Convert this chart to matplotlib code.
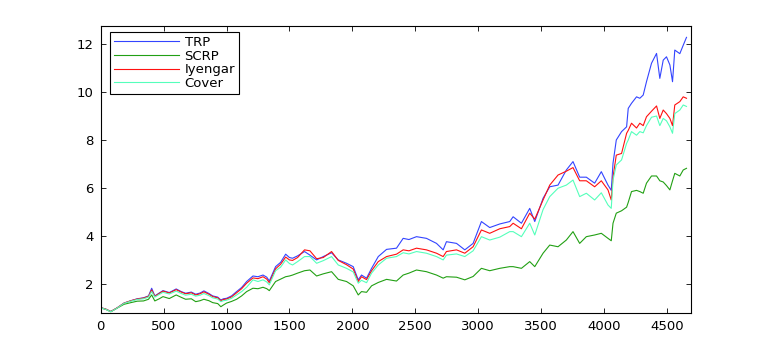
import matplotlib
matplotlib.use("Agg")
import matplotlib.pyplot as plt

days = [0, 40, 80, 130, 185, 240, 290, 340, 380, 405, 430, 465, 495, 545, 600, 640,
        675, 720, 755, 790, 820, 860, 890, 930, 955, 975, 1000, 1040, 1080, 1120, 1160,
        1210, 1250, 1290, 1320, 1340, 1390, 1430, 1470, 1500, 1525, 1565, 1620, 1663,
        1716, 1769, 1835, 1888, 1954, 2007, 2047, 2073, 2113, 2153, 2206, 2272, 2351,
        2404, 2450, 2510, 2589, 2669, 2722, 2748, 2828, 2894, 2960, 3026, 3092, 3172,
        3251, 3278, 3344, 3410, 3450, 3516, 3569, 3635, 3701, 3754, 3807, 3860, 3926,
        3979, 4032, 4058, 4072, 4098, 4140, 4180, 4193, 4219, 4259, 4285, 4312, 4338,
        4378, 4418, 4444, 4471, 4497, 4524, 4545, 4563, 4603, 4630, 4656]

trp = [1.01, 0.95, 0.85, 1.0, 1.2, 1.3, 1.38, 1.42, 1.5, 1.82, 1.5, 1.62, 1.72, 1.64, 1.79, 1.68,
       1.61, 1.66, 1.57, 1.62, 1.71, 1.6, 1.5, 1.45, 1.33, 1.38, 1.4, 1.5, 1.68, 1.85, 2.1,
       2.33, 2.3, 2.37, 2.28, 2.12, 2.72, 2.9, 3.24, 3.1, 3.07, 3.17, 3.35, 3.2,
       3.0, 3.14, 3.3, 3.0, 2.86, 2.72, 2.17, 2.37, 2.24, 2.65, 3.14, 3.44, 3.49,
       3.9, 3.85, 3.97, 3.9, 3.69, 3.42, 3.76, 3.69, 3.42, 3.69, 4.6, 4.35, 4.5,
       4.6, 4.8, 4.53, 5.15, 4.6, 5.57, 6.05, 6.12, 6.75, 7.1, 6.45, 6.45, 6.2,
       6.68, 6.12, 5.9, 7.03, 8.0, 8.35, 8.55, 9.32, 9.53, 9.8, 9.74, 9.875, 10.43,
       11.2, 11.61, 10.57, 11.33, 11.47, 11.13, 10.43, 11.75, 11.6, 11.95, 12.28]

scrp = [1.0, 0.94, 0.84, 0.99, 1.15, 1.22, 1.28, 1.29, 1.36, 1.54, 1.29, 1.38, 1.47, 1.39, 1.54, 1.44,
        1.36, 1.38, 1.26, 1.3, 1.36, 1.3, 1.22, 1.18, 1.05, 1.12, 1.2, 1.27, 1.36, 1.5, 1.68,
        1.82, 1.8, 1.86, 1.8, 1.72, 2.1, 2.2, 2.3, 2.33, 2.37, 2.45, 2.55, 2.58,
        2.33, 2.42, 2.51, 2.19, 2.1, 1.92, 1.54, 1.68, 1.65, 1.92, 2.06, 2.19, 2.12,
        2.37, 2.45, 2.58, 2.51, 2.37, 2.24, 2.3, 2.28, 2.17, 2.31, 2.65, 2.55, 2.65,
        2.72, 2.72, 2.65, 2.93, 2.72, 3.28, 3.62, 3.55, 3.83, 4.18, 3.69, 3.97, 4.04,
        4.11, 3.9, 3.8, 4.53, 4.95, 5.05, 5.2, 5.4, 5.85, 5.9, 5.85, 5.78, 6.2,
        6.5, 6.5, 6.3, 6.25, 6.1, 5.92, 6.3, 6.61, 6.5, 6.75, 6.82]

iyengar = [1.01, 0.95, 0.85, 1.0, 1.2, 1.3, 1.37, 1.41, 1.48, 1.75, 1.48, 1.6, 1.7, 1.62, 1.76, 1.66,
           1.59, 1.63, 1.54, 1.59, 1.67, 1.57, 1.47, 1.42, 1.3, 1.35, 1.37, 1.46, 1.63, 1.8, 2.03,
           2.25, 2.22, 2.3, 2.2, 2.05, 2.63, 2.82, 3.12, 3.0, 2.98, 3.1, 3.42, 3.38,
           3.05, 3.1, 3.35, 2.98, 2.8, 2.62, 2.1, 2.3, 2.18, 2.55, 2.93, 3.14, 3.24,
           3.42, 3.38, 3.49, 3.42, 3.28, 3.14, 3.35, 3.42, 3.28, 3.55, 4.25, 4.11, 4.3,
           4.39, 4.53, 4.3, 4.95, 4.7, 5.5, 6.12, 6.54, 6.7, 6.85, 6.3, 6.3, 6.05,
           6.3, 5.92, 5.5, 6.45, 7.37, 7.44, 8.28, 8.4, 8.7, 8.5, 8.7, 8.6, 8.97,
           9.2, 9.42, 8.9, 9.25, 9.1, 8.9, 8.6, 9.46, 9.6, 9.8, 9.74]

cover = [1.0, 0.94, 0.84, 0.99, 1.19, 1.28, 1.35, 1.38, 1.45, 1.68, 1.45, 1.56, 1.65, 1.58, 1.7, 1.6,
         1.53, 1.57, 1.49, 1.53, 1.6, 1.51, 1.42, 1.37, 1.26, 1.3, 1.32, 1.4, 1.54, 1.68, 1.86,
         2.17, 2.1, 2.17, 2.08, 1.96, 2.55, 2.7, 3.0, 2.85, 2.79, 2.93, 3.14, 3.14,
         2.86, 2.97, 3.14, 2.79, 2.65, 2.5, 2.03, 2.15, 2.05, 2.45, 2.79, 3.07, 3.14,
         3.3, 3.25, 3.35, 3.28, 3.14, 3.0, 3.2, 3.25, 3.14, 3.38, 3.97, 3.83, 3.95,
         4.18, 4.18, 3.97, 4.53, 4.04, 5.1, 5.64, 5.99, 6.12, 6.33, 5.64, 5.78, 5.5,
         5.8, 5.29, 5.15, 6.33, 6.96, 7.17, 7.86, 8.0, 8.35, 8.2, 8.35, 8.3, 8.6,
         8.95, 9.0, 8.6, 8.9, 8.8, 8.55, 8.28, 9.1, 9.25, 9.46, 9.4]

labels = ["TRP", "SCRP", "Iyengar", "Cover"]
colors = ["#3344ff", "#22a014", "#ff1010", "#55ffbb"]

fig = plt.figure(figsize=(7.63, 3.54), dpi=100)
ax = fig.add_axes([0.132, 0.116, 0.773, 0.811])

for ys, lab, col in zip([trp, scrp, iyengar, cover], labels, colors):
    ax.plot(days, ys, color=col, lw=0.8, label=lab)

ax.set_xlim(0, 4688)
ax.set_ylim(0.79, 12.76)
ax.set_xticks(range(0, 5000, 500))
ax.set_yticks([2, 4, 6, 8, 10, 12])
ax.tick_params(direction="in", length=3.5, width=0.6, top=True, right=True,
               labelsize=9.5, pad=5)
for s in ax.spines.values():
    s.set_linewidth(0.8)

leg = ax.legend(loc="upper left", bbox_to_anchor=(0.0158, 0.978), borderaxespad=0,
                fontsize=9.5, fancybox=False, framealpha=1, edgecolor="black",
                handlelength=4.9, handletextpad=0.45, labelspacing=0.05, borderpad=0.3)
leg.get_frame().set_linewidth(0.8)

fig.savefig("out.png", dpi=100)
